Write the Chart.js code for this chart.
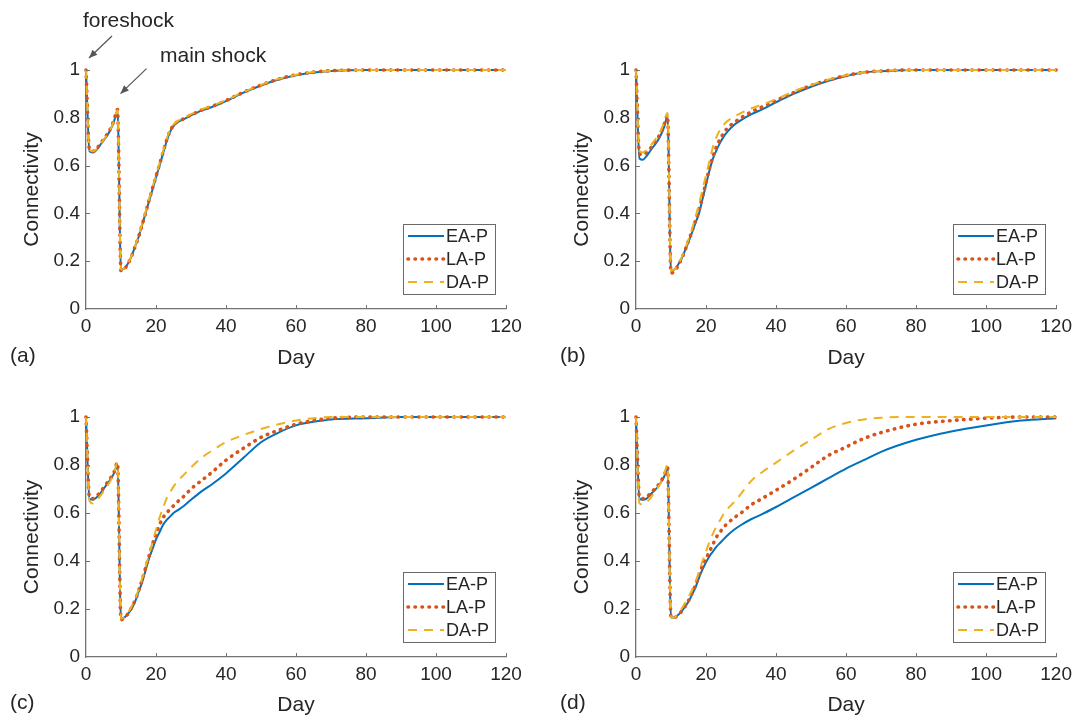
<!DOCTYPE html>
<html>
<head>
<meta charset="utf-8">
<script src="https://cdn.jsdelivr.net/npm/chart.js@4.4.1/dist/chart.umd.min.js"></script>
<style>
  body { margin: 0; background: #fff; width: 1078px; height: 719px; position: relative; overflow: hidden;
         font-family: "Liberation Sans", Arial, sans-serif; color: #262626; }
  canvas { position: absolute; }
  .lbl { position: absolute; font-size: 21px; line-height: 21px; white-space: nowrap; }
</style>
</head>
<body>
<canvas id="panelA" width="539" height="372" style="left:0;top:0"></canvas>
<canvas id="panelB" width="528" height="372" style="left:550px;top:0"></canvas>
<canvas id="panelC" width="539" height="347" style="left:0;top:372px"></canvas>
<canvas id="panelD" width="528" height="347" style="left:550px;top:372px"></canvas>

<div class="lbl" style="left:83px;top:9px">foreshock</div>
<div class="lbl" style="left:160px;top:44px">main shock</div>
<div class="lbl" style="left:10px;top:344px">(a)</div>
<div class="lbl" style="left:560px;top:344px">(b)</div>
<div class="lbl" style="left:10px;top:691px">(c)</div>
<div class="lbl" style="left:560px;top:691px">(d)</div>

<script>
// days after the foreshock
const days = [0,1,2,3,4,5,6,7,8,9, 10,11,12,13,14,15,16,17,18,19, 20,21,22,23,24,25,26,
              28,30,33,36,40, 45,50,55,60,65,70, 80,90,100,110,120];

// (a)
const eaA = [1.00,0.66,0.655,0.665,0.685,0.705,0.725,0.75,0.785,0.83,
             0.165,0.17,0.19,0.22,0.26,0.30,0.35,0.40,0.45,0.50,
             0.55,0.60,0.65,0.70,0.74,0.765,0.78,
             0.795,0.81,0.83,0.845,0.87,
             0.905,0.935,0.96,0.978,0.99,0.996,
             1,1,1,1,1];
const laA = [1.00,0.665,0.66,0.67,0.69,0.71,0.73,0.755,0.79,0.835,
             0.16,0.168,0.19,0.22,0.26,0.30,0.35,0.40,0.455,0.505,
             0.555,0.605,0.655,0.705,0.745,0.768,0.782,
             0.797,0.812,0.832,0.848,0.872,
             0.907,0.937,0.962,0.98,0.991,0.997,
             1,1,1,1,1];
const daA = [1.00,0.665,0.66,0.668,0.688,0.708,0.728,0.752,0.788,0.832,
             0.165,0.17,0.192,0.222,0.262,0.305,0.355,0.405,0.46,0.51,
             0.56,0.61,0.66,0.71,0.75,0.772,0.785,
             0.80,0.815,0.835,0.85,0.874,
             0.908,0.938,0.963,0.98,0.992,0.997,
             1,1,1,1,1];

// (b)
const eaB = [1.00,0.63,0.625,0.64,0.66,0.68,0.70,0.725,0.76,0.805,
             0.16,0.165,0.185,0.21,0.245,0.28,0.32,0.36,0.40,0.46,
             0.52,0.58,0.63,0.665,0.695,0.72,0.74,
             0.77,0.79,0.815,0.835,0.865,
             0.90,0.93,0.955,0.975,0.99,0.995,
             1,1,1,1,1];
const laB = [1.00,0.65,0.645,0.655,0.67,0.69,0.71,0.735,0.77,0.81,
             0.15,0.16,0.18,0.21,0.245,0.285,0.325,0.37,0.415,0.47,
             0.53,0.59,0.64,0.68,0.71,0.735,0.755,
             0.78,0.80,0.825,0.845,0.872,
             0.905,0.935,0.958,0.977,0.99,0.996,
             1,1,1,1,1];
const daB = [1.00,0.66,0.655,0.665,0.68,0.70,0.72,0.745,0.78,0.82,
             0.16,0.165,0.185,0.215,0.25,0.29,0.335,0.385,0.44,0.50,
             0.56,0.62,0.68,0.72,0.75,0.77,0.785,
             0.805,0.82,0.84,0.855,0.878,
             0.91,0.937,0.96,0.978,0.99,0.996,
             1,1,1,1,1];

// (c)
const eaC = [1.00,0.66,0.655,0.665,0.68,0.70,0.72,0.74,0.765,0.80,
             0.16,0.165,0.18,0.20,0.23,0.27,0.31,0.36,0.41,0.45,
             0.49,0.52,0.55,0.57,0.585,0.60,0.61,
             0.63,0.655,0.69,0.72,0.765,
             0.83,0.895,0.935,0.965,0.98,0.99,
             0.995,1,1,1,1];
const laC = [1.00,0.665,0.66,0.67,0.685,0.705,0.725,0.745,0.77,0.81,
             0.155,0.165,0.18,0.205,0.235,0.275,0.32,0.37,0.42,0.47,
             0.51,0.55,0.58,0.60,0.615,0.63,0.645,
             0.67,0.70,0.735,0.77,0.82,
             0.87,0.915,0.945,0.97,0.985,0.995,
             1,1,1,1,1];
const daC = [1.00,0.65,0.64,0.65,0.67,0.69,0.71,0.735,0.765,0.81,
             0.16,0.165,0.185,0.21,0.24,0.28,0.325,0.375,0.425,0.48,
             0.53,0.58,0.62,0.66,0.685,0.71,0.73,
             0.76,0.79,0.83,0.86,0.895,
             0.925,0.95,0.97,0.985,0.995,1,
             1,1,1,1,1];

// (d)
const eaD = [1.00,0.66,0.655,0.66,0.675,0.69,0.705,0.725,0.75,0.785,
             0.165,0.165,0.175,0.19,0.21,0.23,0.26,0.29,0.33,0.365,
             0.395,0.42,0.44,0.46,0.475,0.49,0.505,
             0.53,0.55,0.575,0.595,0.625,
             0.665,0.705,0.745,0.785,0.82,0.855,
             0.905,0.94,0.965,0.985,0.995];
const laD = [1.00,0.665,0.66,0.665,0.68,0.695,0.71,0.73,0.755,0.79,
             0.165,0.165,0.175,0.19,0.21,0.235,0.265,0.30,0.34,0.38,
             0.41,0.44,0.47,0.50,0.52,0.54,0.555,
             0.58,0.60,0.635,0.66,0.695,
             0.74,0.79,0.84,0.875,0.91,0.935,
             0.97,0.985,0.995,1,1];
const daD = [1.00,0.64,0.635,0.645,0.66,0.68,0.70,0.725,0.76,0.80,
             0.165,0.165,0.18,0.20,0.225,0.25,0.28,0.315,0.355,0.40,
             0.44,0.48,0.515,0.545,0.57,0.595,0.615,
             0.645,0.68,0.735,0.77,0.81,
             0.86,0.905,0.95,0.975,0.99,0.997,
             1,1,1,1,1];

const seriesNames = ['EA-P', 'LA-P', 'DA-P'];
const colors = ['#0072BD', '#D95319', '#EDB120'];
const textColor = '#262626';
const axisColor = '#737373';
const fontFamily = '"Liberation Sans", Arial, sans-serif';

function toXY(vals) {
  return days.map((d, i) => ({ x: d, y: vals[i] }));
}

// small inward tick marks, matlab style
const axisTicks = {
  id: 'axisTicks',
  afterDraw(chart) {
    const { ctx, chartArea: a, scales: { x, y } } = chart;
    ctx.save();
    ctx.strokeStyle = axisColor;
    ctx.lineWidth = 1;
    ctx.beginPath();
    x.ticks.forEach(t => {
      if (t.value === 0) return;
      const px = Math.round(x.getPixelForValue(t.value)) + 0.5;
      ctx.moveTo(px, a.bottom); ctx.lineTo(px, a.bottom - 4);
    });
    y.ticks.forEach(t => {
      if (t.value === 0) return;
      const py = Math.round(y.getPixelForValue(t.value)) + 0.5;
      ctx.moveTo(a.left, py); ctx.lineTo(a.left + 4, py);
    });
    ctx.stroke();
    ctx.restore();
  }
};

// boxed legend in the lower right corner of the axes
const boxLegend = {
  id: 'boxLegend',
  afterDraw(chart) {
    const { ctx, chartArea: a } = chart;
    const w = 92, h = 70;
    const bx = Math.round(a.right - 11 - w), by = Math.round(a.bottom - 15 - h);
    ctx.save();
    ctx.fillStyle = '#fff';
    ctx.fillRect(bx, by, w, h);
    ctx.strokeStyle = '#6a6a6a';
    ctx.lineWidth = 1;
    ctx.strokeRect(bx + 0.5, by + 0.5, w, h);
    chart.data.datasets.forEach((ds, i) => {
      const yy = by + 12 + i * 23;
      ctx.beginPath();
      ctx.setLineDash(ds.borderDash || []);
      ctx.lineCap = ds.borderCapStyle || 'butt';
      ctx.lineWidth = ds.borderWidth;
      ctx.strokeStyle = ds.borderColor;
      ctx.moveTo(bx + 5, yy);
      ctx.lineTo(bx + 41, yy);
      ctx.stroke();
      ctx.setLineDash([]);
      ctx.fillStyle = textColor;
      ctx.font = '18px ' + fontFamily;
      ctx.textBaseline = 'middle';
      ctx.fillText(ds.label, bx + 43, yy + 1);
    });
    ctx.restore();
  }
};

// arrows for the foreshock / main shock notes (panel a only)
const shockArrows = {
  id: 'shockArrows',
  afterDraw(chart) {
    const { ctx, scales: { x, y } } = chart;
    const arrow = (x0, y0, x1, y1) => {
      const ang = Math.atan2(y1 - y0, x1 - x0);
      ctx.beginPath();
      ctx.moveTo(x0, y0); ctx.lineTo(x1, y1);
      ctx.stroke();
      ctx.beginPath();
      ctx.moveTo(x1, y1);
      ctx.lineTo(x1 - 9 * Math.cos(ang - 0.4), y1 - 9 * Math.sin(ang - 0.4));
      ctx.lineTo(x1 - 9 * Math.cos(ang + 0.4), y1 - 9 * Math.sin(ang + 0.4));
      ctx.closePath();
      ctx.fill();
    };
    ctx.save();
    ctx.strokeStyle = '#555';
    ctx.fillStyle = '#555';
    ctx.lineWidth = 1.2;
    const fx = x.getPixelForValue(days[0]), fy = y.getPixelForValue(eaA[0]);
    arrow(fx + 26, fy - 34, fx + 3, fy - 12);
    const mx = x.getPixelForValue(days[9]), my = y.getPixelForValue(eaA[9]);
    arrow(mx + 29, my - 42, mx + 3, my - 17);
    ctx.restore();
  }
};

function makePanel(id, ea, la, da, padTop, padRight, xHeight, extra) {
  const datasets = [
    { label: seriesNames[0], data: toXY(ea), borderColor: colors[0], borderWidth: 2, order: 2 },
    { label: seriesNames[1], data: toXY(la), borderColor: colors[1], borderWidth: 3.6,
      borderDash: [0.5, 6.5], borderCapStyle: 'round', order: 1 },
    { label: seriesNames[2], data: toXY(da), borderColor: colors[2], borderWidth: 2,
      borderDash: [9, 7], order: 0 }
  ];
  const tickFont = { family: fontFamily, size: 19 };
  const titleFont = { family: fontFamily, size: 21 };
  new Chart(document.getElementById(id), {
    type: 'line',
    data: { datasets },
    options: {
      responsive: false,
      animation: false,
      devicePixelRatio: 1,
      layout: { padding: { top: padTop, right: padRight, left: 0, bottom: 0 } },
      elements: {
        point: { radius: 0 },
        line: { cubicInterpolationMode: 'monotone', fill: false }
      },
      datasets: { line: { clip: 6 } },
      plugins: { legend: { display: false }, tooltip: { enabled: false } },
      scales: {
        x: {
          type: 'linear', min: 0, max: 120,
          ticks: { stepSize: 20, padding: 6, color: textColor, font: tickFont, maxRotation: 0 },
          grid: { display: false, drawTicks: false },
          border: { display: true, color: axisColor, width: 1.3 },
          title: { display: true, text: 'Day', color: textColor, font: titleFont, padding: { top: 0, bottom: 1.5 } },
          afterFit(s) { s.height = xHeight; }
        },
        y: {
          min: 0, max: 1,
          ticks: { stepSize: 0.2, padding: 6, color: textColor, font: tickFont,
                   callback: v => String(+v.toFixed(1)) },
          grid: { display: false, drawTicks: false },
          border: { display: true, color: axisColor, width: 1.3 },
          title: { display: true, text: 'Connectivity', color: textColor, font: titleFont, padding: { top: 20, bottom: 0 } },
          afterFit(s) { s.width = 86; }
        }
      }
    },
    plugins: [axisTicks, boxLegend].concat(extra || [])
  });
}

makePanel('panelA', eaA, laA, daA, 70, 33, 63, [shockArrows]);
makePanel('panelB', eaB, laB, daB, 70, 21, 63);
makePanel('panelC', eaC, laC, daC, 45, 33, 62);
makePanel('panelD', eaD, laD, daD, 45, 21, 62);
</script>
</body>
</html>
